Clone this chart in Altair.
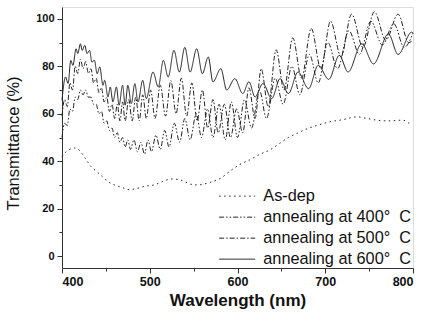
import altair as alt
import pandas as pd

# ---- data ----
asdep_wl = [400, 403, 409, 414, 420, 426, 433, 440, 446, 452, 460, 468, 477, 485, 495, 505, 515, 524, 533, 541,
            548, 555, 563, 572, 581, 591, 602, 614, 626, 637, 648, 658, 668, 678, 690, 705, 720, 736, 748, 759,
            772, 788, 798]
asdep_t = [42, 43.4, 45, 45.6, 44.5, 41.5, 37.8, 35.5, 33.5, 31.5, 30, 29, 28, 28.5, 29.5, 30, 31.5, 32.5, 32.3, 31.2,
           30.2, 30, 30.5, 31.5, 32.9, 35.7, 38.5, 40.6, 43, 44.8, 47.5, 50, 51.8, 53.5, 55, 56.6, 57.5, 58.7, 58, 57.3,
           57, 57.3, 55.2]

a400_wl = [400, 403, 406, 409, 412, 415, 418, 421, 424, 427, 430, 433, 436, 439, 442, 445, 448, 451, 454, 457,
           460, 463, 466, 469, 472, 475, 478, 482, 486, 490, 494, 498, 502, 507, 512, 517, 522, 528, 534, 540,
           546, 553, 559, 566, 572, 579, 586, 593, 600, 608, 616, 625, 633, 643, 652, 662, 671, 682, 692, 703,
           714, 727, 739, 752, 765, 778, 790, 800]
a400_t = [50, 56, 55, 62, 61, 67, 66, 70, 68, 70, 67, 67, 64, 64, 60, 61, 56, 57, 53, 54,
          50, 52, 48, 50, 46, 49, 45, 49, 44, 48, 43, 49, 44, 51, 45, 53, 46, 56, 48, 58,
          49, 60, 50, 62, 50, 64, 49, 65, 50, 66, 54, 70, 58, 75, 64, 80, 68, 85, 73, 90,
          79, 95, 85, 99, 89, 98, 88, 94]

a500_wl = [400, 403, 406, 409, 412, 415, 418, 421, 424, 427, 430, 433, 436, 439, 442, 445, 448, 451, 454, 457,
           460, 463, 466, 469, 472, 476, 480, 484, 488, 492, 496, 501, 506, 512, 518, 524, 530, 536, 542, 548,
           554, 560, 566, 572, 578, 585, 592, 599, 606, 613, 620, 627, 635, 644, 653, 663, 673, 684, 695, 706,
           718, 730, 743, 756, 769, 783, 795, 800]
a500_t = [59, 66, 63, 73, 70, 80, 77, 83, 79, 82, 77, 79, 73, 75, 69, 71, 65, 67, 61, 64,
          58, 64, 57, 65, 57, 66, 57, 67, 57, 68, 58, 70, 58, 72, 59, 74, 60, 75, 59, 73,
          57, 70, 54, 66, 52, 64, 50, 62, 52, 71, 58, 79, 63, 87, 70, 92, 75, 96, 79, 99,
          84, 102, 88, 103, 91, 102, 90, 91]

a600_wl = [400, 404, 407, 410, 412.5, 416, 418, 421, 423, 426, 428.5, 431.5, 434, 437, 440, 443, 446.7, 448.6,
           452.4, 455, 458, 462, 465, 469, 472, 475, 479, 483, 486.6, 492, 496, 503.7, 509.7, 515.5, 521, 527.6,
           533.7, 540, 546, 553.5, 560, 566.7, 572, 581, 587.7, 597, 606, 613, 620, 629, 639, 648.5, 658, 669,
           681, 692, 704, 716, 726, 741.5, 755, 772, 783, 798.5, 800]
a600_t = [65.7, 75.5, 72.8, 82.5, 80.4, 87.4, 85.4, 89.5, 86.7, 88.8, 85.4, 86.7, 81.8, 82.5, 76.9, 79.7, 72, 74.1,
          67.1, 71.3, 65, 71.3, 63.6, 72, 63.6, 72, 64.3, 72.7, 65, 74.1, 66.4, 77.6, 71.3, 82.5, 75.5, 86.7,
          77.6, 88, 77.6, 87.4, 76.9, 83.9, 73.4, 79, 70, 74.8, 68.5, 73.5, 67.1, 72.7, 66.4, 74.8, 68.5, 77.6,
          70.6, 80.4, 74.5, 84.6, 77.6, 89.5, 81, 93.7, 85, 94.4, 94]

names = ["As-dep", "annealing at 400°\u00a0 C", "annealing at 500°\u00a0 C", "annealing at 600°\u00a0 C"]
dashes = [[1.5, 3.5], [5, 2, 1.5, 2, 1.5, 2], [5, 2, 1.5, 2], [1, 0]]

frames = []
for name, wl, t in zip(names, [asdep_wl, a400_wl, a500_wl, a600_wl], [asdep_t, a400_t, a500_t, a600_t]):
    frames.append(pd.DataFrame({"wl": wl, "T": t, "series": name}))
df = pd.concat(frames, ignore_index=True)

font = "Liberation Sans"

chart = alt.Chart(df).mark_line(interpolate="monotone", color="#222", strokeWidth=1.0).encode(
    x=alt.X("wl:Q", scale=alt.Scale(domain=[400, 800], nice=False, zero=False),
            axis=alt.Axis(values=list(range(400, 801, 50)), title="Wavelength (nm)",
                          labelExpr="datum.value % 100 == 0 ? datum.label : ''",
                          tickSize={"condition": {"test": "datum.value % 100 != 0", "value": 3}, "value": 5},
                          grid=False, labelFont=font, labelFontWeight="bold", labelFontSize=12.5,
                          labelColor="#111", labelPadding=2, titleFont=font, titleFontWeight="bold",
                          titleFontSize=17, titleColor="#111", titlePadding=5,
                          domainColor="#333", tickColor="#333")),
    y=alt.Y("T:Q", scale=alt.Scale(domain=[-5, 105], nice=False, zero=False),
            axis=alt.Axis(values=list(range(0, 101, 10)), title="Transmittance (%)",
                          labelExpr="datum.value % 20 == 0 ? datum.label : ''",
                          tickSize={"condition": {"test": "datum.value % 20 != 0", "value": 3}, "value": 5},
                          grid=False, labelFont=font, labelFontWeight="bold", labelFontSize=11,
                          labelColor="#111", labelPadding=3, titleFont=font, titleFontWeight="normal",
                          titleFontSize=16.5, titleColor="#111", titlePadding=14, titleY=136,
                          domainColor="#333", tickColor="#333")),
    strokeDash=alt.StrokeDash("series:N", scale=alt.Scale(domain=names, range=dashes),
                              legend=alt.Legend(title=None, orient="none", legendX=167, legendY=181,
                                                symbolType="M-4,0L4,0", symbolSize=81,
                                                symbolStrokeColor="#222", symbolStrokeWidth=1.0,
                                                symbolFillColor="transparent",
                                                labelFont=font, labelFontSize=16.3, labelColor="#111",
                                                labelOffset=18, rowPadding=4, padding=0, labelLimit=300)),
    detail="series:N",
).properties(
    width=351, height=261,
    autosize=alt.AutoSizeParams(type="none"),
    padding={"left": 62, "top": 7, "right": 16, "bottom": 57},
).configure_view(stroke="#333", strokeWidth=1).configure(background="white")

chart.save("out.html", embed_options={"renderer": "svg", "actions": False})
